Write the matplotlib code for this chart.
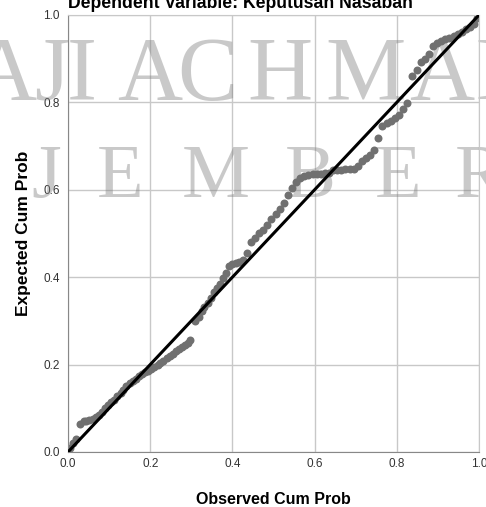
import matplotlib.pyplot as plt

# Data
observed = [0.005, 0.012, 0.02, 0.03, 0.038, 0.045, 0.052, 0.06, 0.068, 0.075,
            0.082, 0.09, 0.098, 0.105, 0.112, 0.12, 0.128, 0.135, 0.142, 0.15,
            0.158, 0.165, 0.172, 0.18, 0.188, 0.195, 0.202, 0.21, 0.218, 0.225,
            0.232, 0.24, 0.248, 0.255, 0.262, 0.27, 0.278, 0.285, 0.292, 0.298,
            0.31, 0.318, 0.325, 0.332, 0.34, 0.348, 0.355, 0.362, 0.37, 0.378,
            0.385, 0.392, 0.4, 0.408, 0.415, 0.425, 0.435, 0.445, 0.455, 0.465,
            0.475, 0.485, 0.495, 0.505, 0.515, 0.525, 0.535, 0.545, 0.555, 0.565,
            0.575, 0.585, 0.595, 0.605, 0.615, 0.625, 0.635, 0.645, 0.655, 0.665,
            0.675, 0.685, 0.695, 0.705, 0.715, 0.725, 0.735, 0.745, 0.755, 0.765,
            0.775, 0.785, 0.795, 0.805, 0.815, 0.825, 0.838, 0.848, 0.858, 0.868,
            0.878, 0.888, 0.898, 0.908, 0.918, 0.928, 0.938, 0.948, 0.958, 0.968,
            0.978, 0.988, 0.996]
expected = [0.01, 0.02, 0.03, 0.065, 0.07, 0.072, 0.074, 0.076, 0.08, 0.085,
            0.092, 0.1, 0.108, 0.114, 0.12, 0.128, 0.136, 0.142, 0.15, 0.157,
            0.163, 0.168, 0.174, 0.178, 0.182, 0.186, 0.19, 0.195, 0.2, 0.204,
            0.208, 0.214, 0.22, 0.225, 0.23, 0.236, 0.24, 0.245, 0.25, 0.256,
            0.3, 0.31, 0.322, 0.332, 0.342, 0.352, 0.365, 0.375, 0.385, 0.398,
            0.41, 0.425, 0.43, 0.432, 0.435, 0.44, 0.455, 0.48, 0.49, 0.5,
            0.508, 0.52, 0.532, 0.545, 0.556, 0.57, 0.588, 0.605, 0.618, 0.626,
            0.632, 0.634, 0.635, 0.636, 0.637, 0.638, 0.638, 0.645, 0.646, 0.646,
            0.647, 0.648, 0.648, 0.655, 0.665, 0.672, 0.68, 0.69, 0.718, 0.745,
            0.752, 0.758, 0.765, 0.772, 0.785, 0.798, 0.86, 0.875, 0.892, 0.9,
            0.91, 0.928, 0.935, 0.94, 0.945, 0.948, 0.952, 0.957, 0.962, 0.968,
            0.972, 0.98, 0.992]
ref_line = [0.0, 1.0]
ticks = [0.0, 0.2, 0.4, 0.6, 0.8, 1.0]
tick_labels = ['0.0', '0.2', '0.4', '0.6', '0.8', '1.0']

plt.rcParams['font.family'] = ['Liberation Sans', 'DejaVu Sans']

fig = plt.figure(figsize=(4.86, 5.07), dpi=100)
ax = fig.add_axes([0.1399, 0.1085, 0.8457, 0.862])

# Watermark (letters placed one by one, tight spacing like the original)
wm = dict(family='Liberation Serif', color='#808080', alpha=0.42,
          transform=fig.transFigure, zorder=0.6, clip_on=False,
          ha='center', va='baseline')
for letter, xp in zip('AJIACHMAD', [4, 52, 82, 150, 207, 280, 365, 442, 508]):
    ax.text(xp / 486, 0.803, letter, fontsize=65, **wm)
for letter, xp in zip('JEMBER', [46, 120, 216, 310, 398, 480]):
    ax.text(xp / 486, 0.611, letter, fontsize=55, **wm)

ax.scatter(observed, expected, s=33, color='#707070', zorder=2, linewidths=0)
ax.plot(ref_line, ref_line, color='black', linewidth=2.2, zorder=3)

ax.set_xlim(0, 1)
ax.set_ylim(0, 1)
ax.set_xticks(ticks)
ax.set_yticks(ticks)
ax.set_xticklabels(tick_labels)
ax.set_yticklabels(tick_labels)
ax.tick_params(length=0, labelsize=8.5, labelcolor='#333333')
ax.tick_params(axis='x', pad=4)
ax.tick_params(axis='y', pad=6)
ax.grid(True, color='#c8c8c8', linewidth=1)
ax.set_axisbelow(True)
for side in ['left', 'bottom']:
    ax.spines[side].set_color('#888888')
for side in ['top', 'right']:
    ax.spines[side].set_color('#c8c8c8')

ax.set_xlabel('Observed Cum Prob', fontsize=11.5, fontweight='bold', labelpad=16)
ax.set_ylabel('Expected Cum Prob', fontsize=12.5, fontweight='bold', labelpad=9)
fig.text(0.494, 0.984, 'Dependent Variable: Keputusan Nasabah', fontsize=12.7,
         fontweight='bold', ha='center', va='baseline')

fig.savefig('out.png', dpi=100)
